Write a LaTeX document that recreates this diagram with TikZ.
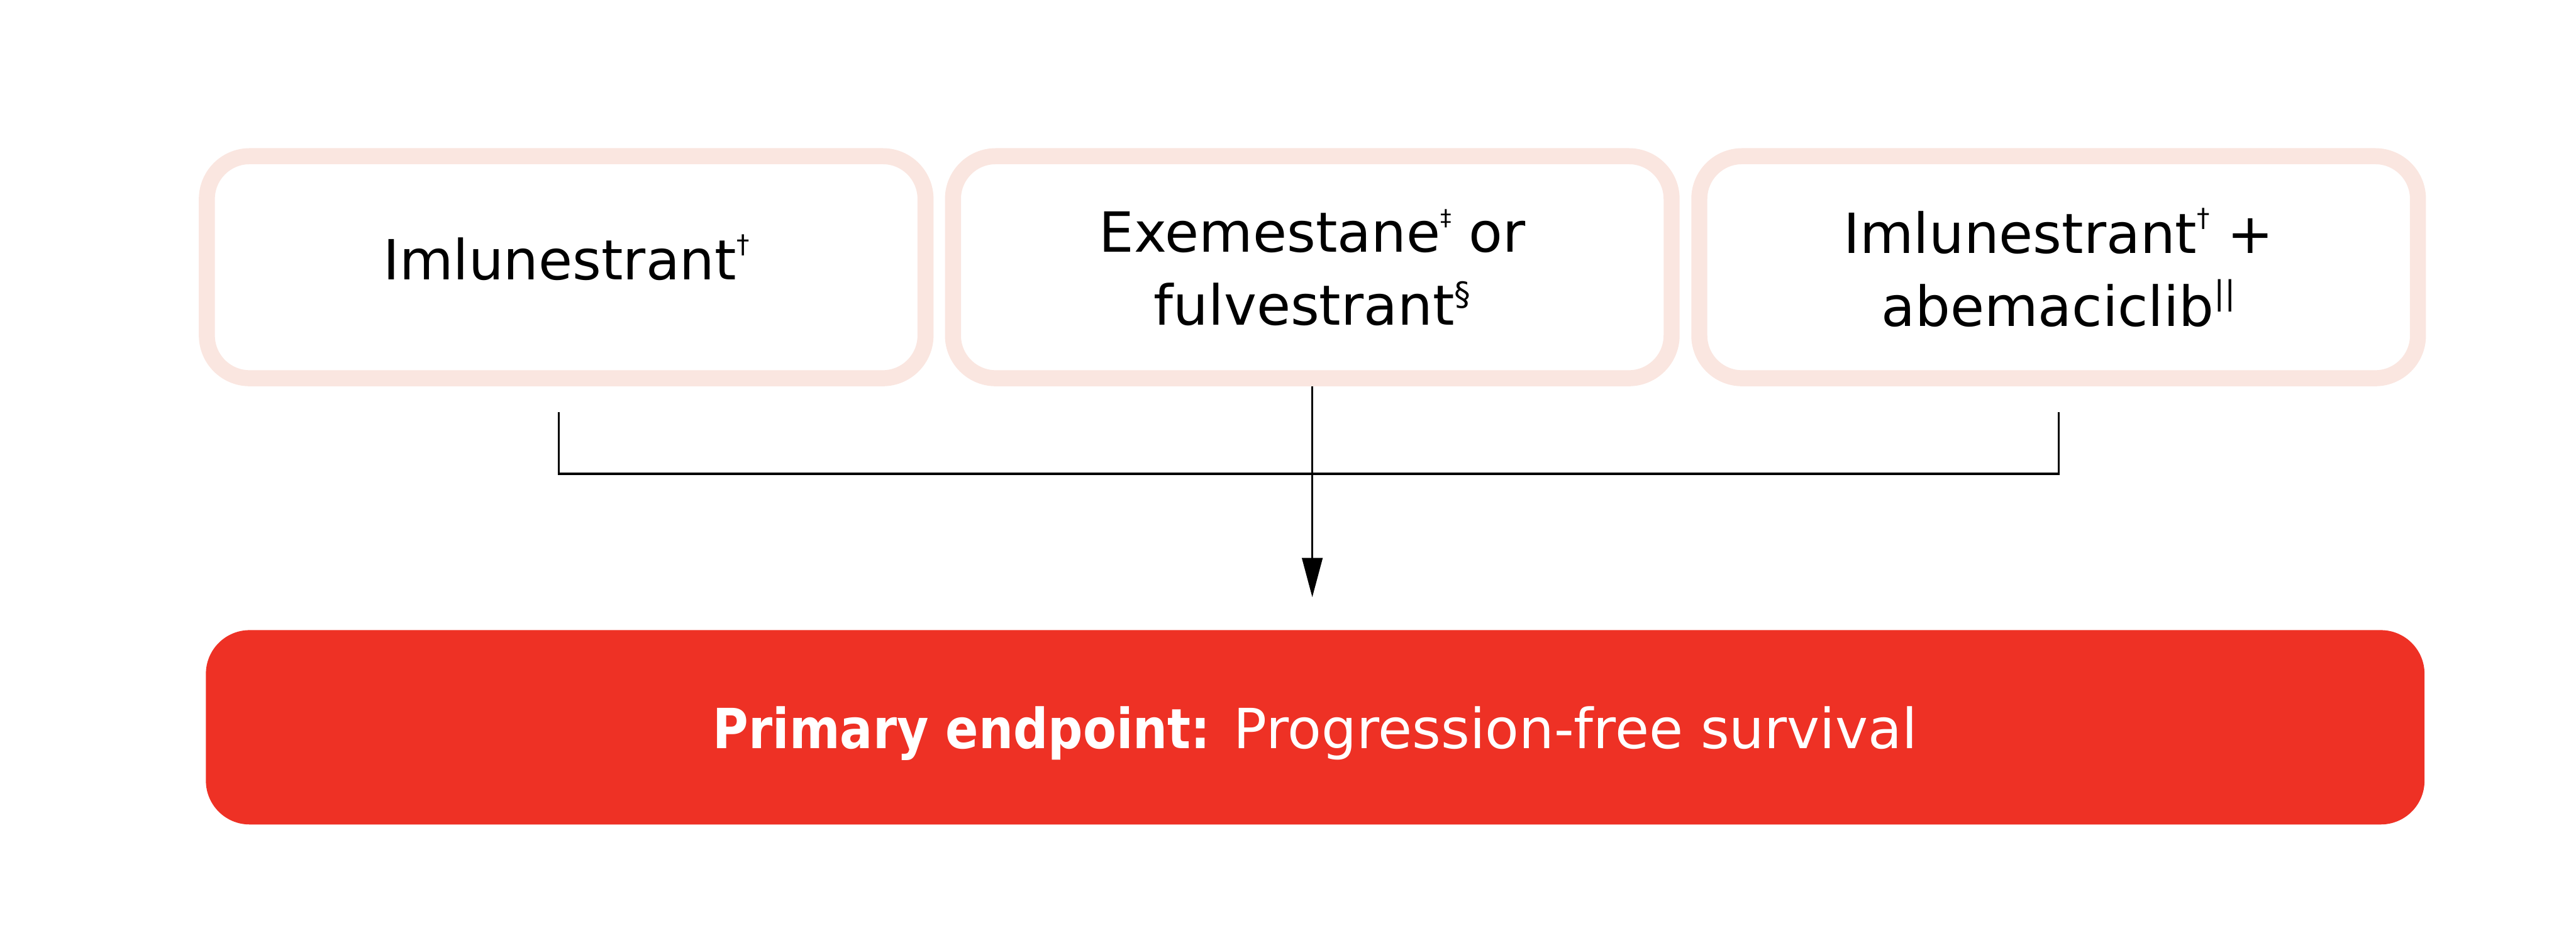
\documentclass[tikz,border=0pt]{standalone}
\usepackage{fontspec}
\setmainfont{DejaVu Sans}[BoldFeatures={FakeStretch=0.88}]
\usetikzlibrary{arrows.meta}

\definecolor{armpink}{RGB}{250,230,224}
\definecolor{endred}{RGB}{238,49,37}

% footnote mark: size, raise, symbol
\newcommand{\fnmark}[3]{\raisebox{#2}{\fontsize{#1}{#1}\selectfont #3}}

\begin{document}
\begin{tikzpicture}[
  armbox/.style={draw=armpink, line width=0.33cm, rounded corners=0.88cm, fill=white,
    minimum width=14.8cm, minimum height=4.57cm, align=center, text depth=0pt,
    font=\fontsize{32.4}{42.7}\selectfont},
  endbox/.style={fill=endred, rounded corners=0.9cm, minimum width=45.69cm,
    minimum height=4.0cm, text=white, text depth=0pt,
    font=\fontsize{32.4}{42.7}\selectfont},
  linkline/.style={line width=1.3pt}
]

\useasboundingbox (0,0) rectangle (53.05,-19.49);

% Three treatment arms
\node [armbox, text depth=0.41cm] (arm1) at (11.66,-5.50) {Imlunestrant\fnmark{15}{15.5pt}{†}};
\node [armbox] (arm2) at (27.025,-5.50) {Exemestane\fnmark{13}{15.5pt}{‡} or\\fulvestrant\fnmark{19}{11.4pt}{§}};
\node [armbox] (arm3) at (42.395,-5.50) {Imlunestrant\fnmark{15}{15.5pt}{†} +\\abemaciclib\fnmark{19}{12.8pt}{||}};

% Endpoint bar
\node [endbox] (endpt) at (27.085,-14.97) {\textbf{Primary endpoint:} Progression-free survival};

% Connector points
\path (arm1.south) ++(-0.15,-0.53) coordinate (dropL);
\path (arm3.south) ++(0,-0.53) coordinate (dropR);
\path (dropL) ++(0,-1.27) coordinate (busL);
\path (dropR) ++(0,-1.27) coordinate (busR);
\path (arm2.south |- endpt.north) ++(0,0.67) coordinate (tip);

\draw [linkline] (dropL) -- (busL) -- (busR) -- (dropR);
\draw [linkline, -{Triangle[length=0.81cm,width=0.42cm]}] (arm2.south) -- (tip);

\end{tikzpicture}
\end{document}
